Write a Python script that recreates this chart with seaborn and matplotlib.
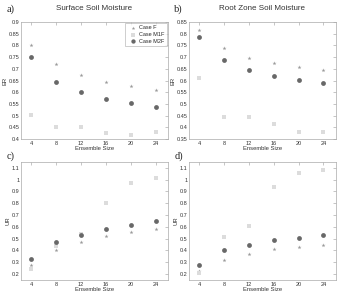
import matplotlib
matplotlib.use("Agg")
import matplotlib.pyplot as plt
import seaborn as sns
import pandas as pd

# ensemble sizes
sizes = [4, 8, 12, 16, 20, 24]

# ER surface soil moisture
er_surf_F = [0.80, 0.719, 0.673, 0.644, 0.626, 0.609]
er_surf_M1F = [0.504, 0.451, 0.451, 0.426, 0.419, 0.429]
er_surf_M2F = [0.752, 0.645, 0.603, 0.573, 0.553, 0.537]

# ER root zone soil moisture
er_root_F = [0.816, 0.737, 0.697, 0.673, 0.659, 0.643]
er_root_M1F = [0.611, 0.444, 0.443, 0.414, 0.38, 0.379]
er_root_M2F = [0.787, 0.687, 0.647, 0.621, 0.604, 0.59]

# UR surface
ur_surf_F = [0.279, 0.40, 0.472, 0.52, 0.557, 0.585]
ur_surf_M1F = [0.245, 0.435, 0.535, 0.805, 0.97, 1.015]
ur_surf_M2F = [0.33, 0.472, 0.534, 0.585, 0.616, 0.648]

# UR root zone
ur_root_F = [0.225, 0.32, 0.37, 0.41, 0.43, 0.45]
ur_root_M1F = [0.205, 0.51, 0.61, 0.935, 1.055, 1.08]
ur_root_M2F = [0.28, 0.40, 0.45, 0.485, 0.505, 0.53]

cases = ["Case F", "Case M1F", "Case M2F"]
colors = {"Case F": "#9a9a9a", "Case M1F": "#dcdcdc", "Case M2F": "#686868"}
markers = {"Case F": "*", "Case M1F": "s", "Case M2F": "o"}
msize = {"Case F": 9, "Case M1F": 7, "Case M2F": 12}

sns.set_style("white")
plt.rcParams['font.family'] = ['Liberation Sans', 'DejaVu Sans']

fig = plt.figure(figsize=(3.4, 2.94), dpi=100)

panels = [
    ("a)", "Surface Soil Moisture", "ER", [er_surf_F, er_surf_M1F, er_surf_M2F],
     [0.062, 0.527, 0.432, 0.398], (0.4, 0.9), [0.4 + 0.05 * i for i in range(11)]),
    ("b)", "Root Zone Soil Moisture", "ER", [er_root_F, er_root_M1F, er_root_M2F],
     [0.556, 0.527, 0.432, 0.398], (0.35, 0.85), [0.35 + 0.05 * i for i in range(11)]),
    ("c)", None, "UR", [ur_surf_F, ur_surf_M1F, ur_surf_M2F],
     [0.062, 0.048, 0.432, 0.401], (0.15, 1.15), [0.2 + 0.1 * i for i in range(10)]),
    ("d)", None, "UR", [ur_root_F, ur_root_M1F, ur_root_M2F],
     [0.556, 0.048, 0.432, 0.401], (0.15, 1.15), [0.2 + 0.1 * i for i in range(10)]),
]

def fmt(v):
    s = ("%.2f" % v).rstrip("0").rstrip(".")
    return s

for idx, (lab, title, ylab, series, rect, ylim, yticks) in enumerate(panels):
    ax = fig.add_axes(rect)
    rows = []
    for case, vals in zip(cases, series):
        for s, v in zip(sizes, vals):
            rows.append({"size": s, "val": v, "case": case})
    df = pd.DataFrame(rows)
    for case in cases:
        sub = df[df["case"] == case]
        sns.scatterplot(data=sub, x="size", y="val", ax=ax, color=colors[case],
                        marker=markers[case], s=msize[case], linewidth=0,
                        label=case if idx == 0 else None, legend=False)
    ax.set_xlim(2.4, 26)
    ax.set_ylim(*ylim)
    ax.set_xticks(sizes)
    ax.set_xticklabels([str(s) for s in sizes], fontsize=4)
    ax.set_yticks(yticks)
    ax.set_yticklabels([fmt(v) for v in yticks], fontsize=4)
    ax.tick_params(direction="in", length=2, width=0.4, color="#999999",
                   top=True, right=True, pad=1.2, labelcolor="#333333")
    for sp in ax.spines.values():
        sp.set_color("#aaaaaa")
        sp.set_linewidth(0.5)
    ax.set_xlabel("Ensemble Size", fontsize=4.2, labelpad=0.5, color="#333333")
    ax.set_ylabel(ylab, fontsize=4.2, labelpad=1, color="#333333")
    if title:
        ax.set_title(title, fontsize=5.8, pad=9, color="#333333")
    ax.text(-0.1, 1.11 if title else 1.05, lab, transform=ax.transAxes,
            fontsize=7.5, family="Liberation Serif", ha="left", va="center")
    if idx == 0:
        leg = ax.legend(loc="upper right", fontsize=4, frameon=True, fancybox=False,
                        borderpad=0.4, handletextpad=0.2, labelspacing=0.3,
                        borderaxespad=0.2, markerscale=0.9)
        leg.get_frame().set_edgecolor("#aaaaaa")
        leg.get_frame().set_linewidth(0.5)

fig.savefig("out.png", dpi=100)
